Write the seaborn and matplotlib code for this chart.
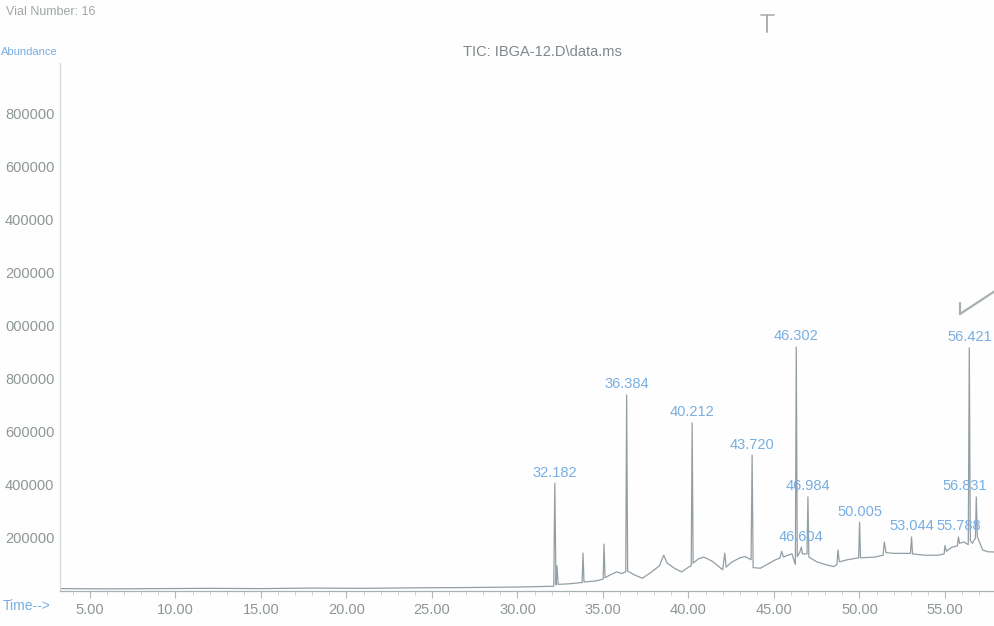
import matplotlib
matplotlib.use("Agg")
import matplotlib.pyplot as plt
from matplotlib.lines import Line2D
from matplotlib.ticker import FixedLocator, MultipleLocator
import numpy as np
import pandas as pd
import seaborn as sns

# Retention times (min) and abundances of the baseline and unlabelled spikes
base_rt = [3.3, 6.0, 9.0, 12.0, 15.0, 18.0, 21.0, 24.0, 27.0, 30.0, 31.5,
           32.12, 32.25, 32.31, 32.38, 33.0, 33.78, 33.83, 33.89, 34.6,
           35.01, 35.06, 35.12, 35.4, 35.8, 36.1, 36.33, 36.44, 36.8, 37.3,
           37.8, 38.3, 38.55, 38.75, 39.2, 39.6, 40.0, 40.16, 40.27, 40.6,
           40.9, 41.4, 42.0, 42.12, 42.2, 42.5, 43.0, 43.3, 43.66, 43.78,
           44.2, 44.6, 45.0, 45.35, 45.45, 45.55, 45.8, 46.05, 46.25, 46.36,
           46.5, 46.66, 46.93, 47.04, 47.5, 48.1, 48.5, 48.68, 48.74, 48.82,
           49.3, 49.95, 50.06, 50.9, 51.38, 51.45, 51.55, 52.0, 52.98, 53.10,
           53.8, 54.6, 54.95, 55.0, 55.08, 55.4, 55.72, 55.85, 56.1, 56.36,
           56.48, 56.6, 56.78, 56.89, 57.2, 57.5, 58.0]
base_ab = [9000, 8000, 9000, 10000, 9000, 11000, 10000, 12000, 13000, 15000, 17000,
           18000, 24000, 95000, 25000, 27000, 32000, 143000, 34000, 38000,
           45000, 177000, 50000, 60000, 72000, 66000, 72000, 75000, 62000, 48000,
           70000, 95000, 135000, 105000, 85000, 72000, 90000, 95000, 105000, 122000,
           128000, 112000, 80000, 143000, 90000, 108000, 125000, 130000, 118000, 88000,
           86000, 100000, 115000, 125000, 150000, 128000, 135000, 140000, 100000, 130000,
           145000, 140000, 140000, 128000, 110000, 98000, 92000, 100000, 155000, 110000,
           118000, 125000, 125000, 128000, 135000, 185000, 145000, 142000, 142000, 140000,
           135000, 135000, 140000, 172000, 150000, 165000, 170000, 180000, 185000, 175000,
           190000, 180000, 200000, 205000, 155000, 148000, 147000]

# Integrated, labelled peaks
peak_rt = [32.182, 36.384, 40.212, 43.720, 46.302, 46.604,
           46.984, 50.005, 53.044, 55.788, 56.421, 56.831]
peak_ab = [407000, 740000, 634000, 513000, 921000, 166000,
           355000, 260000, 204000, 204000, 917000, 355000]

x_ticks = [5, 10, 15, 20, 25, 30, 35, 40, 45, 50, 55]
y_ticks = [200000, 400000, 600000, 800000, 1000000, 1200000, 1400000, 1600000, 1800000]
y_tick_labels = ["200000", "400000", "600000", "800000", "000000",
                 "200000", "400000", "600000", "800000"]

trace = pd.DataFrame({"rt": base_rt + peak_rt, "abundance": base_ab + peak_ab})
trace = trace.sort_values("rt").reset_index(drop=True)

sns.set_theme(style="white")
plt.rcParams["font.family"] = ["Liberation Sans", "DejaVu Sans"]

W, H = 995, 626
fig = plt.figure(figsize=(W / 100, H / 100), dpi=100, facecolor="#fefefe")

def fx(px):
    return px / W

def fy(py):
    return 1 - py / H

ax = fig.add_axes([fx(60), fy(591), fx(935), (591 - 63) / H])
ax.set_facecolor("none")

trace_col = "#939ea4"
label_col = "#78aee2"
tick_col = "#8f9698"

sns.lineplot(data=trace, x="rt", y="abundance", ax=ax, color=trace_col,
             lw=0.9, estimator=None, sort=True)

def rt_of(px):
    return 5 + (px - 90) / 17.1

ax.set_xlim(rt_of(60), rt_of(995))
ax.set_ylim(0, 1992000)

ax.xaxis.set_major_locator(FixedLocator(x_ticks))
ax.xaxis.set_minor_locator(MultipleLocator(1))
ax.set_xticklabels([f"{v:.2f}" for v in x_ticks])
ax.yaxis.set_major_locator(FixedLocator(y_ticks))
ax.set_yticklabels(y_tick_labels)

ax.tick_params(axis="x", which="major", direction="out", length=5, width=0.8,
               color="#b0b8ba", labelsize=10.5, labelcolor=tick_col, pad=4)
ax.tick_params(axis="x", which="minor", direction="out", length=3, width=0.6,
               color="#c4cacc")
ax.tick_params(axis="x", bottom=True, which="both")
ax.tick_params(axis="y", length=0, labelsize=10.5, labelcolor=tick_col, pad=4)

for side in ("top", "right"):
    ax.spines[side].set_visible(False)
ax.spines["left"].set_color("#d2d8da")
ax.spines["left"].set_linewidth(0.9)
ax.spines["bottom"].set_color("#a8b2b4")
ax.spines["bottom"].set_linewidth(0.9)
ax.set_xlabel("")
ax.set_ylabel("")

for rt, ab in zip(peak_rt, peak_ab):
    # the last label sits against the right edge, so nudge it inwards
    dx = -8 if rt == peak_rt[-1] else 0
    ax.annotate(f"{rt:.3f}", xy=(rt, ab), xytext=(dx, 2.5), textcoords="offset points",
                ha="center", va="bottom", color=label_col, fontsize=10.5,
                annotation_clip=False)

# Header texts
fig.text(fx(542), fy(52), "TIC: IBGA-12.D\\data.ms", ha="center", va="center",
         color="#7f878c", fontsize=10.5)
fig.text(fx(58), fy(52), "Abundance", ha="right", va="center",
         color=label_col, fontsize=8)
fig.text(fx(3), fy(606), "Time-->", ha="left", va="center",
         color=label_col, fontsize=10)
fig.text(fx(96), fy(12), "Vial Number: 16", ha="right", va="center",
         color="#a0a6a8", fontsize=9)

# Pen marks on the printout
mark_col = "#a8b0b0"
fig.add_artist(Line2D([fx(767), fx(767)], [fy(15), fy(32)], color=mark_col, lw=1.4))
fig.add_artist(Line2D([fx(761), fx(774)], [fy(15), fy(15)], color=mark_col, lw=1.2))
fig.add_artist(Line2D([fx(960), fx(960)], [fy(303), fy(314)], color=mark_col, lw=1.6))
fig.add_artist(Line2D([fx(960), fx(995)], [fy(314), fy(291)], color=mark_col, lw=1.6))

fig.savefig("out.png", dpi=100, facecolor=fig.get_facecolor())
